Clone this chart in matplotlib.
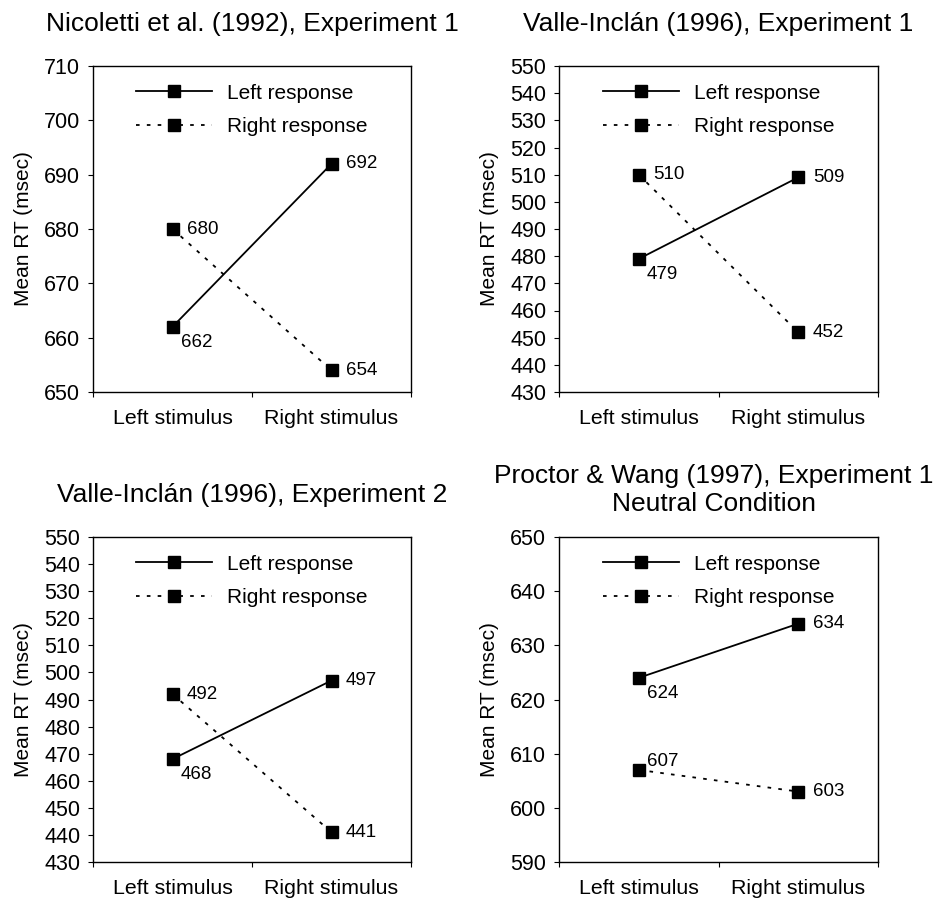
import matplotlib
matplotlib.use("Agg")
import matplotlib.pyplot as plt
import numpy as np

plt.rcParams['font.family'] = ['Liberation Sans', 'DejaVu Sans']

categories = ["Left stimulus", "Right stimulus"]
series_names = ["Left response", "Right response"]

titles = ["Nicoletti et al. (1992), Experiment 1",
          "Valle-Inclán (1996), Experiment 1",
          "Valle-Inclán (1996), Experiment 2",
          "Proctor & Wang (1997), Experiment 1\nNeutral Condition"]

left_resp = [[662, 692], [479, 509], [468, 497], [624, 634]]
right_resp = [[680, 654], [510, 452], [492, 441], [607, 603]]

ylims = [(650, 710), (430, 550), (430, 550), (590, 650)]

# label placement for (left point, right point): 'r' right, 'br' below-right, 'ar' above-right
left_resp_pos = [('br', 'r'), ('br', 'r'), ('br', 'r'), ('br', 'r')]
right_resp_pos = [('r', 'r'), ('r', 'r'), ('r', 'r'), ('ar', 'r')]

fig = plt.figure(figsize=(9.36, 8.98), dpi=100)
W, H = 936, 898
boxes = [(93, 66, 411, 392), (559, 66, 878, 392), (93, 537, 411, 862), (559, 537, 878, 862)]
title_pads = [25.5, 25.5, 25.5, 19]
title_x = [0.5, 0.5, 0.5, 0.485]

offsets = {'r': (10.5, 0, 'left', 'center'),
           'br': (6, -5, 'left', 'top'),
           'ar': (6, 0, 'left', 'bottom')}

xs = np.array([0.5, 1.5])
for i in range(4):
    x0, y0, x1, y1 = boxes[i]
    ax = fig.add_axes([x0 / W, 1 - y1 / H, (x1 - x0) / W, (y1 - y0) / H])
    ax.plot(xs, left_resp[i], color='black', linestyle='-', linewidth=1.3,
            marker='s', markersize=8.5, label=series_names[0])
    ax.plot(xs, right_resp[i], color='black', linestyle=(0, (2, 4)), linewidth=1.3,
            marker='s', markersize=8.5, label=series_names[1])
    for vals, poss in ((left_resp[i], left_resp_pos[i]), (right_resp[i], right_resp_pos[i])):
        for xv, yv, p in zip(xs, vals, poss):
            dx, dy, ha, va = offsets[p]
            ax.annotate(str(yv), (xv, yv), xytext=(dx, dy), textcoords='offset points',
                        ha=ha, va=va, fontsize=13.5)
    ax.set_xlim(0, 2)
    lo, hi = ylims[i]
    ax.set_ylim(lo, hi)
    ax.set_yticks(np.arange(lo, hi + 1, 10))
    ax.set_xticks([0, 1, 2])
    ax.set_xticklabels([])
    ax.set_xticks(xs, minor=True)
    ax.set_xticklabels(categories, minor=True)
    ax.tick_params(axis='x', which='minor', length=0, labelsize=15.4, pad=12.5)
    ax.tick_params(axis='x', which='major', direction='out', length=3.6)
    ax.tick_params(axis='y', direction='out', length=3.6, labelsize=15.5, pad=5.5)
    ax.set_ylabel("Mean RT (msec)", fontsize=15, labelpad=8)
    ax.set_title(titles[i], fontsize=19, pad=title_pads[i], linespacing=1.2, x=title_x[i])
    for s in ax.spines.values():
        s.set_linewidth(1.0)
    ax.legend(loc='upper center', frameon=False, fontsize=15, handlelength=3.65,
              handletextpad=0.7, bbox_to_anchor=(0.5, 1.0), borderaxespad=0.45,
              labelspacing=0.69)

fig.savefig("out.png", dpi=100)
